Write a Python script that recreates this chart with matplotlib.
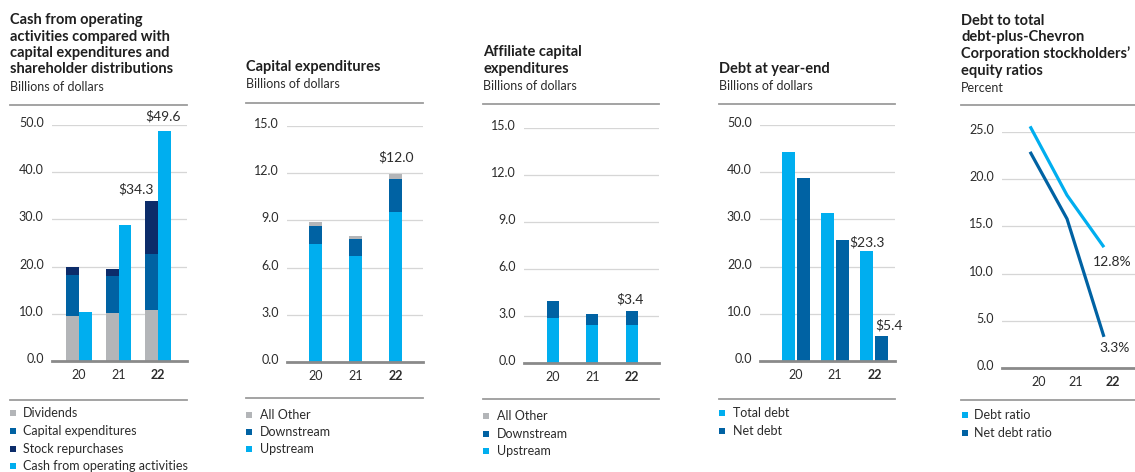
import matplotlib
matplotlib.use("Agg")
import matplotlib.pyplot as plt
import matplotlib.patches as mpatches
from matplotlib.lines import Line2D
from matplotlib.transforms import ScaledTranslation
import numpy as np

# ── Data ──────────────────────────────────────────────────────────────────────

years = ["20", "21", "22"]

# Cash from operations vs capex + distributions
dividends = [9.5, 10.1, 10.8]
capex_total = [8.7, 7.9, 11.9]
buybacks = [1.8, 1.4, 11.3]
cash_ops = [10.4, 28.9, 48.8]

# Capital expenditures
capex_up = [7.5, 6.75, 9.55]
capex_down = [1.15, 1.05, 2.05]
capex_other = [0.25, 0.2, 0.35]

# Affiliate capital expenditures
aff_up = [2.9, 2.4, 2.4]
aff_down = [1.05, 0.75, 0.95]
aff_other = [0.0, 0.0, 0.0]

# Debt at year-end
total_debt = [44.2, 31.3, 23.3]
net_debt = [38.7, 25.7, 5.4]

# Ratios (percent)
debt_ratio = [25.6, 18.3, 12.8]
net_debt_ratio = [22.9, 15.8, 3.3]

# ── Style ─────────────────────────────────────────────────────────────────────

LIGHT = "#00AEEF"
MID = "#0062A3"
NAVY = "#0C2C6A"
GRAY = "#B3B5B8"
TXT = "#2b2b2b"
RULE = "#9c9c9c"

plt.rcParams["font.family"] = ["Lato", "DejaVu Sans"]

W, H = 1135, 472
fig = plt.figure(figsize=(W / 100, H / 100), dpi=100)


def fx(px):
    return px / W


def fy(py):
    return 1 - py / H


def hrule(x0, x1, y, lw=1.3):
    fig.add_artist(Line2D([fx(x0), fx(x1)], [fy(y), fy(y)],
                          transform=fig.transFigure, color=RULE, lw=lw))


def header(x, title, title_base, sub, sub_base):
    fig.text(fx(x), fy(title_base), title, fontsize=10.5, fontweight="bold",
             color="#1f1f1f", va="baseline", ha="left", linespacing=1.2)
    fig.text(fx(x), fy(sub_base), sub, fontsize=9, color=TXT,
             va="baseline", ha="left")


def legend(x_sq, x_txt, rows, items):
    for y, (label, color) in zip(rows, items):
        fig.add_artist(mpatches.Rectangle((fx(x_sq), fy(y + 3)), 6 / W, 6 / H,
                                          transform=fig.transFigure,
                                          color=color, lw=0))
        fig.text(fx(x_txt), fy(y), label, fontsize=9, color=TXT,
                 va="center", ha="left")


def make_axes(left, right, top, bottom, ymax, step, xlim):
    ax = fig.add_axes([fx(left), fy(bottom), (right - left) / W, (bottom - top) / H])
    ax.set_ylim(0, ymax)
    ax.set_xlim(*xlim)
    ax.set_yticks(np.arange(0, ymax + 0.01, step))
    ax.set_yticklabels([f"{v:.1f}" for v in np.arange(0, ymax + 0.01, step)])
    for s in ["top", "right", "left"]:
        ax.spines[s].set_visible(False)
    ax.spines["bottom"].set_color("#8a8a8a")
    ax.spines["bottom"].set_linewidth(2)
    ax.spines["bottom"].set_zorder(5)
    ax.yaxis.grid(True, color="#d6d6d6", lw=0.9)
    ax.set_axisbelow(True)
    ax.tick_params(length=0, labelsize=9, labelcolor=TXT)
    ax.tick_params(axis="y", pad=6)
    ax.tick_params(axis="x", pad=6)
    for lab in ax.get_yticklabels():
        lab.set_transform(lab.get_transform() + ScaledTranslation(0, 3 / 100, fig.dpi_scale_trans))
    ax.set_xticks(range(3))
    ax.set_xticklabels(years)
    ax.get_xticklabels()[-1].set_fontweight("bold")
    ax.patch.set_visible(False)
    return ax


def value_label(ax, x, y, text, dx, dy, ha="center"):
    ax.annotate(text, (x, y), xytext=(dx, dy), textcoords="offset pixels",
                ha=ha, va="center", fontsize=10, color=TXT, annotation_clip=False)


x = np.arange(3)

# ── Panel 1: Cash from operating activities ───────────────────────────────────

header(10, "Cash from operating\nactivities compared with\ncapital expenditures and\nshareholder distributions",
       73, "Billions of dollars", 91)
hrule(10, 187, 105)
ax1 = make_axes(52, 187, 125, 361, 50, 10, (-0.68, 2.73))
bw = 0.32
b1 = np.array(dividends)
b2 = b1 + np.array(capex_total)
ax1.bar(x - bw / 2, dividends, width=bw, color=GRAY)
ax1.bar(x - bw / 2, capex_total, bottom=b1, width=bw, color=MID)
ax1.bar(x - bw / 2, buybacks, bottom=b2, width=bw, color=NAVY)
ax1.bar(x + bw / 2, cash_ops, width=bw, color=LIGHT)
stack_top = b2 + np.array(buybacks)
value_label(ax1, x[2], stack_top[2], "$34.3", -4, 11, ha="right")
value_label(ax1, x[2] + bw / 2, cash_ops[2], "$49.6", -1, 14)
hrule(10, 187, 400)
legend(10, 23, [413, 431, 449, 466],
       [("Dividends", GRAY), ("Capital expenditures", MID),
        ("Stock repurchases", NAVY), ("Cash from operating activities", LIGHT)])

# ── Panel 2: Capital expenditures ─────────────────────────────────────────────

header(246, "Capital expenditures", 71.5, "Billions of dollars", 88.5)
hrule(246, 423, 103)
ax2 = make_axes(287, 423, 126, 362, 15, 3, (-0.71, 2.69))
bw = 0.33
c1 = np.array(capex_up)
c2 = c1 + np.array(capex_down)
ax2.bar(x, capex_up, width=bw, color=LIGHT)
ax2.bar(x, capex_down, bottom=c1, width=bw, color=MID)
ax2.bar(x, capex_other, bottom=c2, width=bw, color=GRAY)
value_label(ax2, x[2], (c2 + np.array(capex_other))[2], "$12.0", 1, 17)
hrule(246, 423, 398)
legend(246, 260, [415, 432, 449],
       [("All Other", GRAY), ("Downstream", MID), ("Upstream", LIGHT)])

# ── Panel 3: Affiliate capital expenditures ───────────────────────────────────

header(483, "Affiliate capital\nexpenditures", 72.5, "Billions of dollars", 89.5)
hrule(483, 659, 104)
ax3 = make_axes(524, 659, 128, 363, 15, 3, (-0.73, 2.69))
bw = 0.31
a1 = np.array(aff_up)
a2 = a1 + np.array(aff_down)
ax3.bar(x, aff_up, width=bw, color=LIGHT)
ax3.bar(x, aff_down, bottom=a1, width=bw, color=MID)
ax3.bar(x, aff_other, bottom=a2, width=bw, color=GRAY)
value_label(ax3, x[2], (a2 + np.array(aff_other))[2], "$3.4", -2, 11)
hrule(483, 659, 399)
legend(483, 497, [416, 434, 451],
       [("All Other", GRAY), ("Downstream", MID), ("Upstream", LIGHT)])

# ── Panel 4: Debt at year-end ─────────────────────────────────────────────────

header(719, "Debt at year-end", 73.5, "Billions of dollars", 90.5)
hrule(719, 895, 104)
ax4 = make_axes(760, 895, 125, 361, 50, 10, (-0.9, 2.52))
bw = 0.33
off = 0.19
ax4.bar(x - off, total_debt, width=bw, color=LIGHT)
ax4.bar(x + off, net_debt, width=bw, color=MID)
value_label(ax4, x[2] - off, total_debt[2], "$23.3", 0, 9)
value_label(ax4, x[2] + off, net_debt[2], "$5.4", 7, 10)
hrule(719, 895, 399)
legend(719, 733, [413, 431], [("Total debt", LIGHT), ("Net debt", MID)])

# ── Panel 5: Debt ratios ──────────────────────────────────────────────────────

header(961, "Debt to total\ndebt-plus-Chevron\nCorporation stockholders\u2019\nequity ratios",
       74.5, "Percent", 92.5)
hrule(961, 1135, 105)
ax5 = make_axes(1002, 1135, 132, 368, 25, 5, (-0.76, 2.84))
for lab in ax5.get_xticklabels():
    lab.set_transform(lab.get_transform() + ScaledTranslation(9 / 100, 0, fig.dpi_scale_trans))
ax5.plot(x, debt_ratio, color=LIGHT, lw=2.3, solid_capstyle="butt", clip_on=False)
ax5.plot(x, net_debt_ratio, color=MID, lw=2.3, solid_capstyle="butt", clip_on=False)
value_label(ax5, x[2], debt_ratio[2], "12.8%", 8, -15, ha="center")
value_label(ax5, x[2], net_debt_ratio[2], "3.3%", 11, -11, ha="center")
hrule(961, 1135, 400)
legend(962, 974, [415, 433], [("Debt ratio", LIGHT), ("Net debt ratio", MID)])

fig.savefig("out.png", dpi=100)
